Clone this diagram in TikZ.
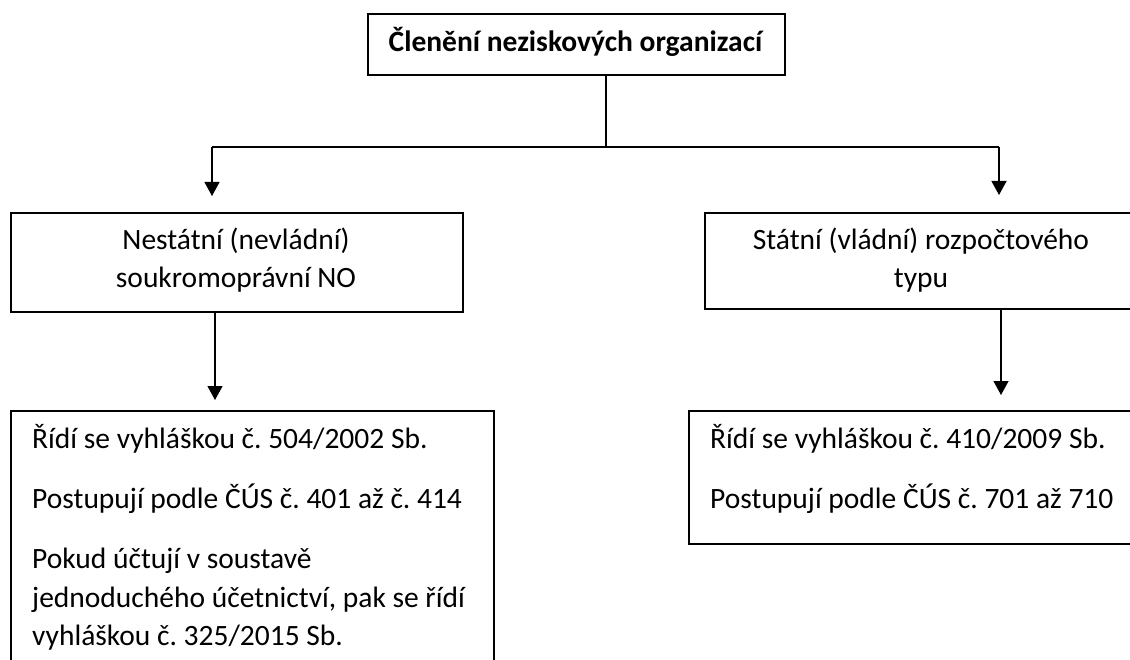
\documentclass[tikz,border=0pt]{standalone}
\usepackage{fontspec}
\setmainfont{Carlito}
\usetikzlibrary{arrows.meta}
\frenchspacing
\begin{document}
\begin{tikzpicture}[x=1pt,y=-1pt,
  box/.style={draw=black,line width=1.8pt,inner sep=0pt,anchor=north west},
  txt/.style={inner sep=0pt,font=\fontsize{29.5}{38}\selectfont},
  conn/.style={draw=black,line width=1.2pt},
  arr/.style={conn,-{Triangle[length=14pt,width=15pt]}}]
\useasboundingbox (0,0) rectangle (1130,660);
\clip (0,0) rectangle (1130,660);
\fill[white] (0,0) rectangle (1130,660);
% boxes
\node[box,minimum width=417pt,minimum height=61pt] (top) at (367,13) {};
\node[box,minimum width=452pt,minimum height=99pt] (L2) at (10,212) {};
\node[box,minimum width=434pt,minimum height=96pt] (R2) at (704,212) {};
\node[box,minimum width=483pt,minimum height=300pt] (L3) at (10,410) {};
\node[box,minimum width=470pt,minimum height=133pt] (R3) at (688,410) {};
% texts
\node[txt,anchor=base,font=\fontsize{29.5}{38}\selectfont\bfseries] (t0) at (575.5,52) {Členění neziskových organizací};
\node[txt,anchor=base] (tl1) at (236,250) {Nestátní (nevládní)};
\node[txt,anchor=base] (tl2) at (236,288) {soukromoprávní NO};
\node[txt,anchor=base] (tr1) at (921,250) {Státní (vládní) rozpočtového};
\node[txt,anchor=base] (tr2) at (921,288) {typu};
\node[txt,anchor=base west] (a1) at (32,448) {Řídí se vyhláškou č. 504/2002 Sb.};
\node[txt,anchor=base west] (a2) at (32,508) {Postupují podle ČÚS č. 401 až č. 414};
\node[txt,anchor=base west] (a3) at (32,568) {Pokud účtují v soustavě};
\node[txt,anchor=base west] (a4) at (32,607) {jednoduchého účetnictví, pak se řídí};
\node[txt,anchor=base west] (a5) at (32,645) {vyhláškou č. 325/2015 Sb.};
\node[txt,anchor=base west] (b1) at (710,448) {Řídí se vyhláškou č. 410/2009 Sb.};
\node[txt,anchor=base west] (b2) at (710,508) {Postupují podle ČÚS č. 701 až 710};
% connectors
\coordinate (j) at (606,147);
\coordinate (jl) at (212,147);
\coordinate (jr) at (999,147);
\coordinate (xl) at (215,0);
\coordinate (xr) at (1001,0);
\draw[conn] (top.south -| j) -- (j);
\draw[conn] (jl) -- (jr);
\draw[arr,shorten >=16pt] (jl) -- (jl |- L2.north);
\draw[arr,shorten >=17pt] (jr) -- (jr |- R2.north);
\draw[arr,shorten >=10pt] (L2.south -| xl) -- (L3.north -| xl);
\draw[arr,shorten >=15pt] (R2.south -| xr) -- (R3.north -| xr);
\end{tikzpicture}
\end{document}
